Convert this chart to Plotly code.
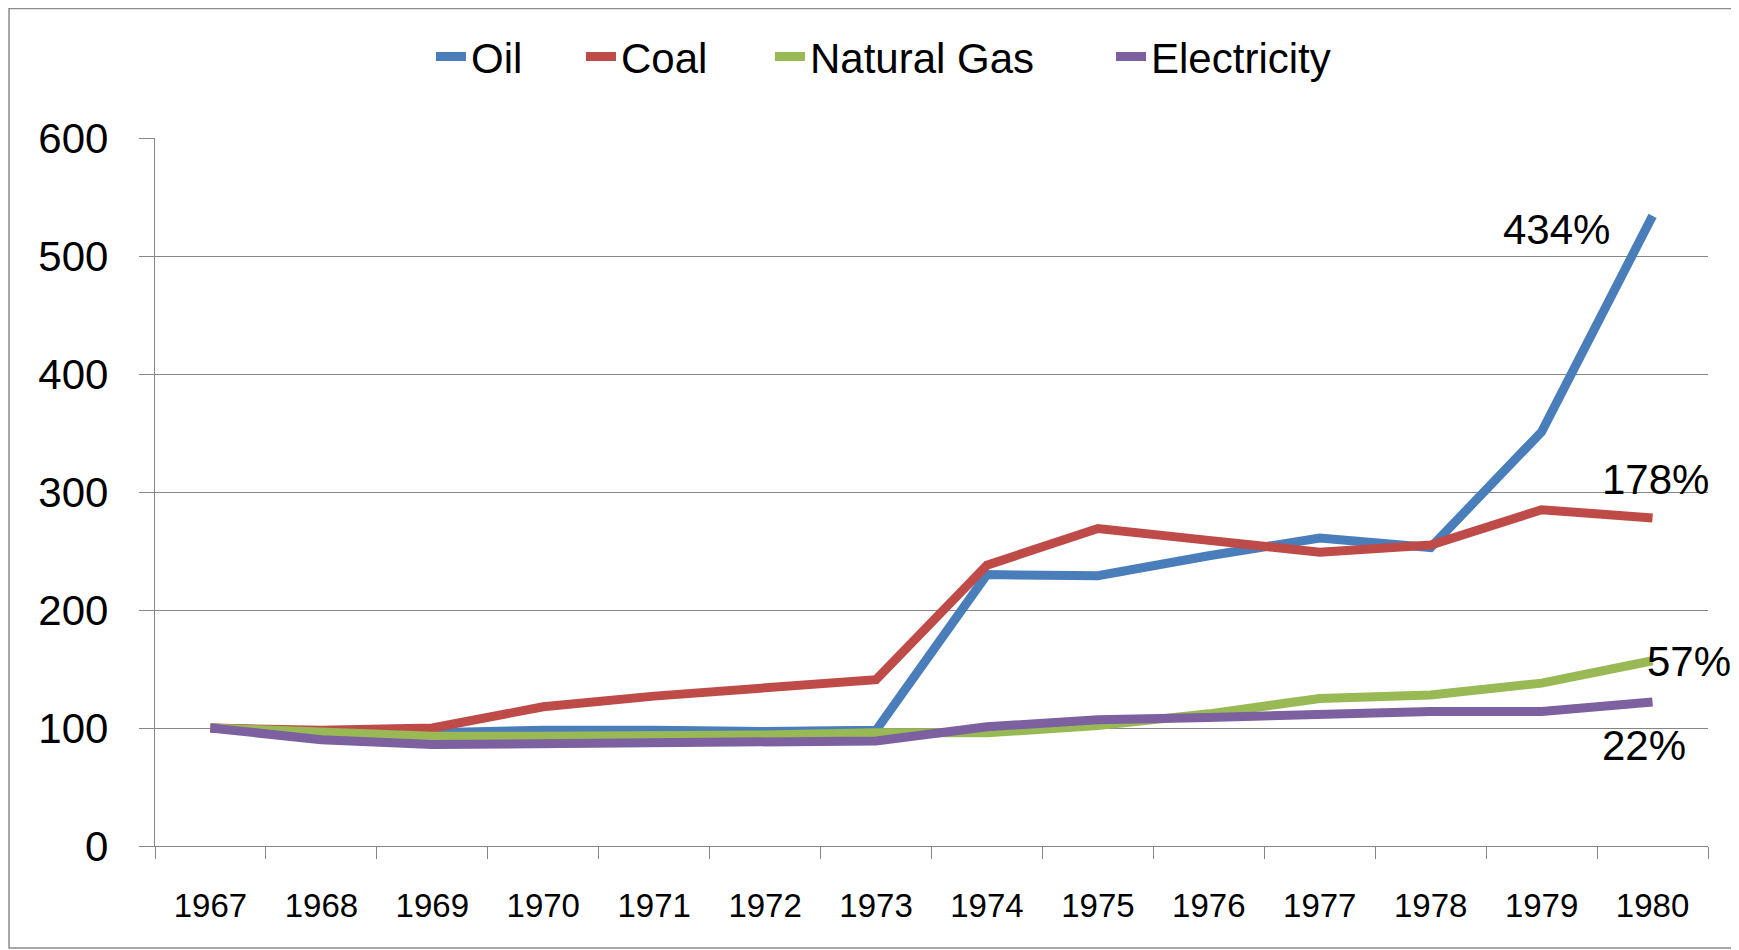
import plotly.graph_objects as go

years = ["1967", "1968", "1969", "1970", "1971", "1972", "1973",
         "1974", "1975", "1976", "1977", "1978", "1979", "1980"]
oil = [100, 97, 96, 98, 98, 97, 98, 230, 229, 246, 261, 253, 351, 534]
coal = [100, 98, 100, 118, 127, 134, 141, 238, 269, 259, 249, 255, 285, 278]
natural_gas = [100, 97, 93, 93, 93, 94, 96, 96, 102, 112, 125, 128, 138, 157]
electricity = [100, 90, 86, 87, 87, 89, 89, 101, 107, 109, 112, 114, 114, 122]

series = [
    ("Oil", oil, "#4A7EBB"),
    ("Coal", coal, "#BE4B48"),
    ("Natural Gas", natural_gas, "#98B954"),
    ("Electricity", electricity, "#7D60A0"),
]

FONT = "Liberation Sans, Arial, sans-serif"

# one legend per entry so each entry sits where the reference puts it
legend_ids = ["legend", "legend2", "legend3", "legend4"]
legend_x = [0.1777, 0.2743, 0.396, 0.6156]

fig = go.Figure()
for (name, vals, color), lid in zip(series, legend_ids):
    fig.add_trace(go.Scatter(
        x=years, y=vals, name=name, mode="lines",
        line=dict(color=color, width=9),
        legend=lid,
    ))

# end-of-line percentage labels (change vs 1967)
last = len(years) - 1
label_pos = {
    "Oil": dict(xanchor="right", yanchor="middle", xshift=-41, yshift=-14),
    "Coal": dict(xanchor="center", yanchor="middle", xshift=3, yshift=38),
    "Natural Gas": dict(xanchor="left", yanchor="middle", xshift=-8, yshift=-1),
    "Electricity": dict(xanchor="center", yanchor="middle", xshift=-9, yshift=-43),
}
for name, vals, color in series:
    fig.add_annotation(
        x=last, y=vals[-1], xref="x", yref="y",
        text=f"{round(vals[-1] - vals[0])}%", showarrow=False,
        font=dict(family=FONT, size=42, color="black"),
        **label_pos[name],
    )

# outer chart border
fig.add_shape(type="rect", xref="paper", yref="paper",
              x0=-0.094, x1=1.018, y0=-0.144, y1=1.1829,
              line=dict(color="#8C8C8C", width=1.5), fillcolor="rgba(0,0,0,0)",
              layer="below")

legend_common = dict(orientation="h", xanchor="left", y=1.115, yanchor="middle",
                     font=dict(family=FONT, size=42, color="black"),
                     bgcolor="rgba(0,0,0,0)", itemwidth=30)

fig.update_layout(
    width=1731, height=942,
    margin=dict(l=147, r=31, t=130, b=104),
    paper_bgcolor="white", plot_bgcolor="white",
    font=dict(family=FONT, color="black"),
    showlegend=True,
    xaxis=dict(
        type="category", range=[-0.5, 13.5],
        showgrid=False, showline=True, linecolor="#868686", linewidth=1.3,
        ticks="outside", ticklen=12, tickcolor="#868686", tickwidth=1.3,
        tickson="boundaries",
        tickfont=dict(family=FONT, size=33, color="black"),
        ticklabelstandoff=30,
    ),
    yaxis=dict(
        range=[0, 600], dtick=100, tick0=0,
        showgrid=True, gridcolor="#868686", gridwidth=1.3,
        showline=True, linecolor="#868686", linewidth=1.3,
        ticks="outside", ticklen=15, tickcolor="#868686", tickwidth=1.3,
        zeroline=False,
        tickfont=dict(family=FONT, size=42, color="black"),
        ticklabelstandoff=22,
    ),
)
for lid, lx in zip(legend_ids, legend_x):
    fig.update_layout({lid: dict(x=lx, **legend_common)})

fig.write_html("out.html")
